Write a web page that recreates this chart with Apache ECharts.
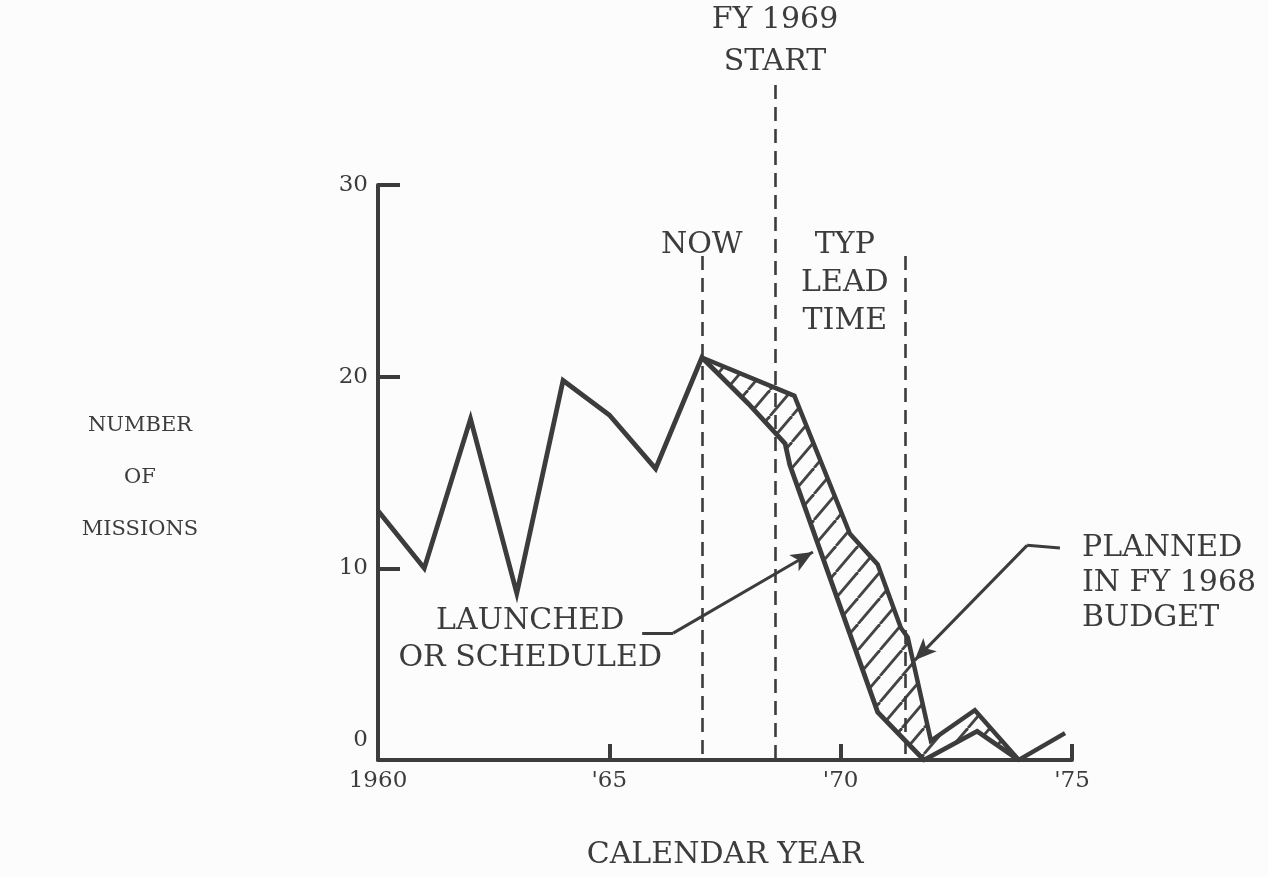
<!DOCTYPE html>
<html>
<head>
<meta charset="utf-8">
<title>Number of missions</title>
<script src="https://cdn.jsdelivr.net/npm/echarts@6/dist/echarts.min.js"></script>
<style>
  html, body { margin: 0; padding: 0; background: #fcfcfc; }
  #chart { width: 1268px; height: 877px; }
</style>
</head>
<body>
<div id="chart"></div>
<script>
// launched or scheduled (lower line)
const launchedYears = [1960, 1961, 1962, 1963, 1964, 1965, 1966, 1967, 1968, 1968.8, 1968.9, 1970.8, 1971.8, 1972.95, 1973.85]
const launchedMissions = [13, 10, 17.8, 8.7, 19.8, 18, 15.2, 21, 18.6, 16.5, 15.4, 2.5, 0, 1.5, 0]

// planned in FY 1968 budget (upper line)
const plannedYears = [1967, 1969, 1969.15, 1970.2, 1970.8, 1971.3, 1971.45, 1971.95, 1972.9, 1973.85, 1974.85]
const plannedMissions = [21, 19, 18.1, 11.8, 10.2, 6.9, 6.4, 1.0, 2.6, 0, 1.4]

// tick labels
const xTickValues = [1960, 1965, 1970, 1975]
const xTickLabels = ['1960', "'65", "'70", "'75"]
const yTickValues = [0, 10, 20, 30]

// reference lines
const nowYear = 1967.0
const fyStartYear = 1968.58
const leadEndYear = 1971.39

const INK = '#3c3c3c'
const FONT = 'DejaVu Serif'

function makeHatch() {
  const w = 22
  const h = 26
  const c = document.createElement('canvas')
  c.width = w
  c.height = h
  const ctx = c.getContext('2d')
  ctx.strokeStyle = '#444'
  ctx.lineWidth = 2.8
  for (const dx of [-w, 0, w]) {
    ctx.beginPath()
    ctx.moveTo(dx, h)
    ctx.lineTo(dx + w, 0)
    ctx.stroke()
  }
  return c
}
const hatch = makeHatch()

const pairs = (xs, ys) => xs.map((x, i) => [x, ys[i]])

const option = {
  animation: false,
  backgroundColor: '#fcfcfc',
  graphic: [
    {
      type: 'text',
      x: 140,
      y: 478,
      silent: true,
      style: {
        text: 'NUMBER\nOF\nMISSIONS',
        fill: INK,
        font: '21px "DejaVu Serif"',
        align: 'center',
        verticalAlign: 'middle',
        lineHeight: 52
      }
    }
  ],
  grid: [
    { left: 378, right: 196, top: 185, bottom: 117 },
    // overlay for the dashed markers, same scale but reaching higher
    { left: 378, right: 196, top: 85, bottom: 117 }
  ],
  xAxis: [
    {
      type: 'value',
      min: 1960,
      max: 1975,
      interval: 5,
      name: 'CALENDAR YEAR',
      nameLocation: 'middle',
      nameGap: 95,
      nameTextStyle: { fontFamily: FONT, fontSize: 30, color: INK, verticalAlign: 'middle' },
      axisLine: { lineStyle: { color: INK, width: 4 } },
      axisTick: { inside: true, length: 16, lineStyle: { color: INK, width: 4 }, customValues: [1965, 1970, 1975] },
      axisLabel: {
        margin: 10,
        fontFamily: FONT,
        fontSize: 23,
        color: INK,
        formatter: function(v) {
          const i = xTickValues.indexOf(v)
          return i >= 0 ? xTickLabels[i] : ''
        }
      },
      splitLine: { show: false }
    },
    { gridIndex: 1, type: 'value', min: 1960, max: 1975, show: false }
  ],
  yAxis: [
    {
      type: 'value',
      min: 0,
      max: 30,
      interval: 10,
      axisLine: { show: true, lineStyle: { color: INK, width: 4 } },
      axisTick: { show: true, inside: true, length: 22, lineStyle: { color: INK, width: 4 }, customValues: [10, 20, 30] },
      axisLabel: {
        margin: 10,
        fontFamily: FONT,
        fontSize: 23,
        color: INK,
        customValues: yTickValues,
        formatter: function(v) {
          return v === 0 ? '{low|0}' : String(v)
        },
        rich: { low: { padding: [0, 0, 40, 0] } }
      },
      splitLine: { show: false }
    },
    // 30 missions sit at the main grid top, so the overlay top is 30 * 675 / 575
    { gridIndex: 1, type: 'value', min: 0, max: 35.22, show: false }
  ],
  series: [
    {
      // hatched band between the two curves
      type: 'custom',
      z: 1,
      silent: true,
      data: [[plannedYears[0], plannedMissions[0]]],
      renderItem: function(params, api) {
        const pts = []
        plannedYears.forEach((x, i) => pts.push(api.coord([x, plannedMissions[i]])))
        for (let i = launchedYears.length - 1; i >= 0; i--) {
          if (launchedYears[i] >= plannedYears[0]) pts.push(api.coord([launchedYears[i], launchedMissions[i]]))
        }
        return {
          type: 'polygon',
          shape: { points: pts },
          style: { fill: { image: hatch, repeat: 'repeat' }, stroke: null }
        }
      }
    },
    {
      name: 'Launched or scheduled',
      type: 'line',
      z: 3,
      symbol: 'none',
      silent: true,
      lineStyle: { color: INK, width: 4.8, join: 'miter' },
      data: pairs(launchedYears, launchedMissions),
      markLine: {
        silent: true,
        animation: false,
        symbol: ['none', 'none'],
        symbolSize: [14, 22],
        lineStyle: { type: 'solid', width: 3, color: INK },
        itemStyle: { color: INK },
        label: { show: false },
        emphasis: { disabled: true },
        data: [
          [{ coord: [1965.71, 6.62] }, { coord: [1966.38, 6.62] }],
          [{ coord: [1966.38, 6.62] }, { coord: [1969.4, 10.85], symbol: 'arrow' }],
          [{ coord: [1974.74, 11.06] }, { coord: [1974.03, 11.2] }],
          [{ coord: [1974.03, 11.2] }, { coord: [1971.6, 5.2], symbol: 'arrow' }]
        ]
      },
      markPoint: {
        silent: true,
        animation: false,
        symbol: 'circle',
        symbolSize: 0,
        itemStyle: { color: 'transparent' },
        label: { show: true, fontFamily: FONT, fontSize: 30, color: INK, lineHeight: 37 },
        data: [
          {
            coord: [1963.29, 6.26],
            label: { position: 'inside', align: 'center', formatter: 'LAUNCHED\nOR SCHEDULED' }
          },
          {
            coord: [1974.74, 11.06],
            label: { position: 'right', distance: 22, align: 'left', offset: [0, 35], lineHeight: 35, formatter: 'PLANNED\nIN FY 1968\nBUDGET' }
          }
        ]
      }
    },
    {
      name: 'Planned in FY 1968 budget',
      type: 'line',
      z: 3,
      symbol: 'none',
      silent: true,
      lineStyle: { color: INK, width: 4.5, join: 'miter' },
      data: pairs(plannedYears, plannedMissions)
    },
    {
      // dashed markers on the overlay grid, drawn from the top down
      type: 'line',
      xAxisIndex: 1,
      yAxisIndex: 1,
      clip: false,
      silent: true,
      z: 2,
      data: [],
      markLine: {
        silent: true,
        animation: false,
        symbol: ['none', 'none'],
        lineStyle: { type: [14, 8], width: 2.6, color: INK },
        label: { show: true, position: 'start', fontFamily: FONT, fontSize: 30, color: INK },
        emphasis: { disabled: true },
        data: [
          [{ coord: [nowYear, 26.3], label: { formatter: 'NOW', lineHeight: 30, distance: -4 } }, { coord: [nowYear, 0] }],
          [{ coord: [fyStartYear, 35.22], label: { formatter: 'FY 1969\nSTART', lineHeight: 42, distance: 2 } }, { coord: [fyStartYear, 0] }],
          [{ coord: [leadEndYear, 26.3], label: { show: false } }, { coord: [leadEndYear, 0] }]
        ]
      },
      markPoint: {
        silent: true,
        animation: false,
        symbol: 'circle',
        symbolSize: 0,
        itemStyle: { color: 'transparent' },
        label: { show: true, position: 'inside', fontFamily: FONT, fontSize: 30, color: INK, lineHeight: 38, formatter: 'TYP\nLEAD\nTIME' },
        data: [{ coord: [1970.09, 24.9] }]
      }
    }
  ]
}

const myChart = echarts.init(document.getElementById('chart'))
myChart.setOption(option)
</script>
</body>
</html>
